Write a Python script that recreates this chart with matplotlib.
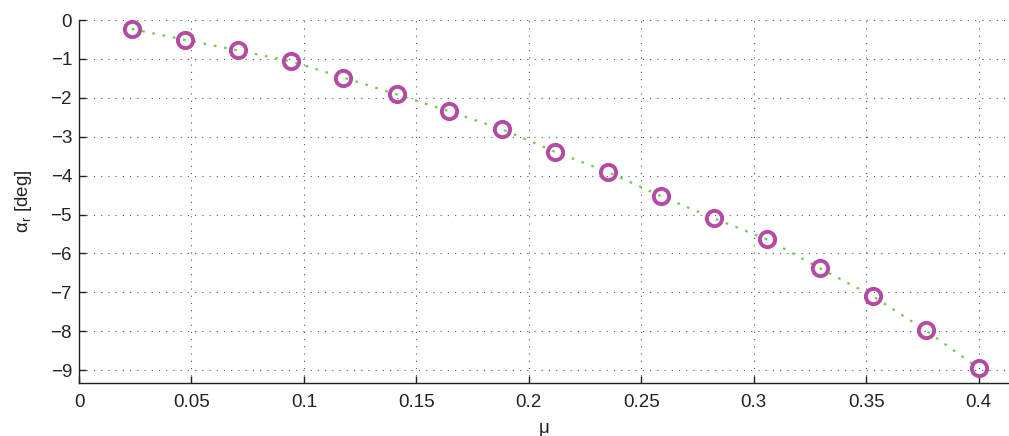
import matplotlib.pyplot as plt
import numpy as np

plt.rcParams['font.family'] = ['Liberation Sans', 'DejaVu Sans']

# friction coefficient and resulting rear slip angle
mu = [0.0235, 0.0471, 0.0706, 0.0941, 0.1176, 0.1412, 0.1647, 0.1882, 0.2118,
      0.2353, 0.2588, 0.2824, 0.3059, 0.3294, 0.3529, 0.3765, 0.4000]
alpha_r = [-0.23, -0.51, -0.78, -1.06, -1.48, -1.91, -2.35, -2.81, -3.39,
           -3.91, -4.53, -5.10, -5.64, -6.38, -7.10, -7.98, -8.95]

xticks = [0, 0.05, 0.1, 0.15, 0.2, 0.25, 0.3, 0.35, 0.4]
xticklabels = ['0', '0.05', '0.1', '0.15', '0.2', '0.25', '0.3', '0.35', '0.4']
yticks = list(range(0, -10, -1))

fig = plt.figure(figsize=(10.09, 4.36), dpi=100)
ax = fig.add_axes([0.0783, 0.1208, 0.9217, 0.8333])

ax.plot(mu, alpha_r, color='#78c850', linestyle=(0, (1.2, 3.5)), linewidth=1.6, zorder=2)
ax.plot(mu, alpha_r, linestyle='none', marker='o', markersize=11,
        markerfacecolor='none', markeredgecolor='#b54aa3', markeredgewidth=2.8, zorder=3)

ax.set_xlim(0, 0.4135)
ax.set_ylim(-9.34, 0)
ax.set_xticks(xticks)
ax.set_xticklabels(xticklabels)
ax.set_yticks(yticks)
ax.set_yticklabels([str(v).replace('-', '\u2212') for v in yticks])

ax.grid(True, color='#555555', linestyle=(0, (1, 5.5)), linewidth=0.8)
ax.set_axisbelow(True)
for side in ['top', 'right']:
    ax.spines[side].set_visible(False)
for side in ['left', 'bottom']:
    ax.spines[side].set_color('#222222')
    ax.spines[side].set_linewidth(1.0)
ax.tick_params(direction='in', length=5, width=1.0, labelsize=13.5,
               colors='#222222')
ax.tick_params(axis='x', pad=8)
ax.tick_params(axis='y', pad=5)

ax.set_xlabel('\u03bc', fontsize=13.5, color='#222222', labelpad=6)
ax.set_ylabel(r'$\mathregular{\alpha_r}$ [deg]', fontsize=13.5, color='#222222', labelpad=12)

fig.savefig('out.png', dpi=100)
